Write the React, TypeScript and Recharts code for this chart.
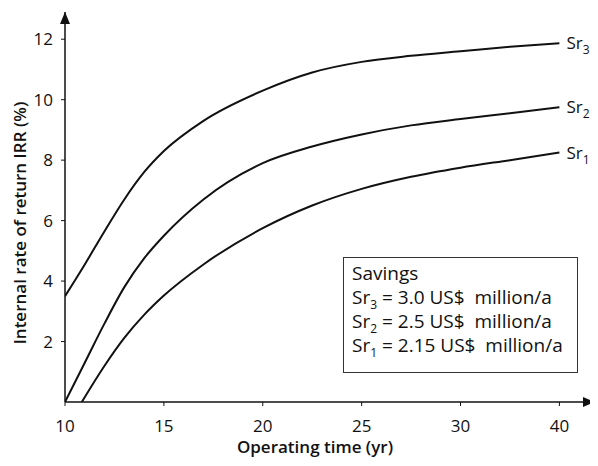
import { LineChart, Line, XAxis, YAxis, ReferenceDot } from 'recharts';

// operating time (yr) and IRR (%)
const sr3Years = [10, 11, 12, 13, 14, 15, 17, 20, 22.5, 25, 27.5, 30, 35, 40];
const sr3Irr = [3.5, 4.55, 5.65, 6.7, 7.6, 8.3, 9.3, 10.3, 10.9, 11.25, 11.45, 11.6, 11.75, 11.87];

const sr2Years = [10, 11, 12, 13, 14, 15, 17, 20, 22.5, 25, 27.5, 30, 35, 40];
const sr2Irr = [0, 1.3, 2.6, 3.8, 4.75, 5.5, 6.7, 7.9, 8.45, 8.85, 9.15, 9.36, 9.55, 9.75];

const sr1Years = [10.85, 12, 13, 14, 15, 17, 20, 22.5, 25, 27.5, 30, 35, 40];
const sr1Irr = [0, 1.2, 2.12, 2.88, 3.52, 4.55, 5.75, 6.5, 7.05, 7.45, 7.75, 8.0, 8.25];

const xTickYears = [10, 15, 20, 25, 30, 40];
const yTicks = [2, 4, 6, 8, 10, 12];

const legendTitle = 'Savings';
const legendRows = [
  { sub: '3', text: ' = 3.0 US$  million/a' },
  { sub: '2', text: ' = 2.5 US$  million/a' },
  { sub: '1', text: ' = 2.15 US$  million/a' },
];

// the printed axis squeezes 30-40 yr into one 5-yr step
const toAxis = (yr: number) => (yr <= 30 ? yr : 30 + (yr - 30) / 2);

const build = (years: number[], vals: number[]) =>
  years.map((yr, i) => ({ x: toAxis(yr), irr: vals[i] }));

const sr3 = build(sr3Years, sr3Irr);
const sr2 = build(sr2Years, sr2Irr);
const sr1 = build(sr1Years, sr1Irr);

const xMax = 36.8;
const yMax = 12.9;
const font = '"Open Sans", sans-serif';
const ink = '#111';

const endLabel = (sub: string, last: number) => (props: any) => {
  if (props.index !== last) return <g />;
  return (
    <text x={props.x + 7} y={props.y + 6} fontSize={17} fontFamily={font} fill={ink}>
      Sr
      <tspan dy={5} fontSize={12}>{sub}</tspan>
    </text>
  );
};

const arrowRight = (p: any) => (
  <path d={`M${p.cx},${p.cy} L${p.cx - 12},${p.cy - 5} L${p.cx - 12},${p.cy + 5} Z`} fill={ink} />
);
const arrowUp = (p: any) => (
  <path d={`M${p.cx},${p.cy} L${p.cx - 5},${p.cy + 12} L${p.cx + 5},${p.cy + 12} Z`} fill={ink} />
);

export default function App() {
  return (
    <div style={{ position: 'relative', width: 598, height: 466, margin: -8, background: '#fff' }}>
      <LineChart width={598} height={466} margin={{ top: 12, right: 3, bottom: 20, left: 20 }}>
        <XAxis
          type="number"
          dataKey="x"
          domain={[10, xMax]}
          ticks={xTickYears.map(toAxis)}
          tickFormatter={(v: number) => String(xTickYears[xTickYears.map(toAxis).indexOf(v)])}
          height={44}
          tickSize={4}
          tickMargin={14}
          axisLine={{ stroke: ink, strokeWidth: 1.5 }}
          tickLine={{ stroke: ink }}
          tick={{ fill: ink, fontSize: 17, fontFamily: font }}
          allowDataOverflow
          label={{
            content: (p: any) => (
              <text
                x={p.viewBox.x + p.viewBox.width / 2 - 15}
                y={p.viewBox.y + 51}
                textAnchor="middle"
                fontSize={17}
                fontWeight={600}
                fontFamily={font}
                fill={ink}
              >
                Operating time (yr)
              </text>
            ),
          }}
        />
        <YAxis
          type="number"
          domain={[0, yMax]}
          ticks={yTicks}
          width={45}
          tickSize={4}
          tickMargin={8}
          axisLine={{ stroke: ink, strokeWidth: 1.5 }}
          tickLine={{ stroke: ink }}
          tick={{ fill: ink, fontSize: 17, fontFamily: font }}
          allowDataOverflow
          label={{
            content: (p: any) => (
              <text
                transform={`translate(${p.viewBox.x + 6}, ${p.viewBox.y + p.viewBox.height / 2 + 16}) rotate(-90)`}
                textAnchor="middle"
                fontSize={17}
                fontWeight={600}
                fontFamily={font}
                fill={ink}
              >
                Internal rate of return IRR (%)
              </text>
            ),
          }}
        />
        <Line data={sr3} dataKey="irr" type="monotone" stroke={ink} strokeWidth={2} dot={false}
          isAnimationActive={false} label={endLabel('3', sr3.length - 1)} />
        <Line data={sr2} dataKey="irr" type="monotone" stroke={ink} strokeWidth={2} dot={false}
          isAnimationActive={false} label={endLabel('2', sr2.length - 1)} />
        <Line data={sr1} dataKey="irr" type="monotone" stroke={ink} strokeWidth={2} dot={false}
          isAnimationActive={false} label={endLabel('1', sr1.length - 1)} />
        <ReferenceDot x={xMax} y={0} ifOverflow="visible" shape={arrowRight} />
        <ReferenceDot x={10} y={yMax} ifOverflow="visible" shape={arrowUp} />
      </LineChart>
      <div
        style={{
          position: 'absolute',
          left: 343,
          top: 257,
          width: 235,
          height: 116,
          boxSizing: 'border-box',
          border: '1px solid #333',
          padding: '3px 0 0 8px',
          fontFamily: font,
          fontSize: 19,
          lineHeight: '24px',
          color: ink,
          background: '#fff',
        }}
      >
        <div>{legendTitle}</div>
        {legendRows.map((r) => (
          <div key={r.sub} style={{ whiteSpace: 'pre' }}>
            Sr<span style={{ fontSize: 12, position: 'relative', top: 5, lineHeight: 0 }}>{r.sub}</span>
            {r.text}
          </div>
        ))}
      </div>
    </div>
  );
}
